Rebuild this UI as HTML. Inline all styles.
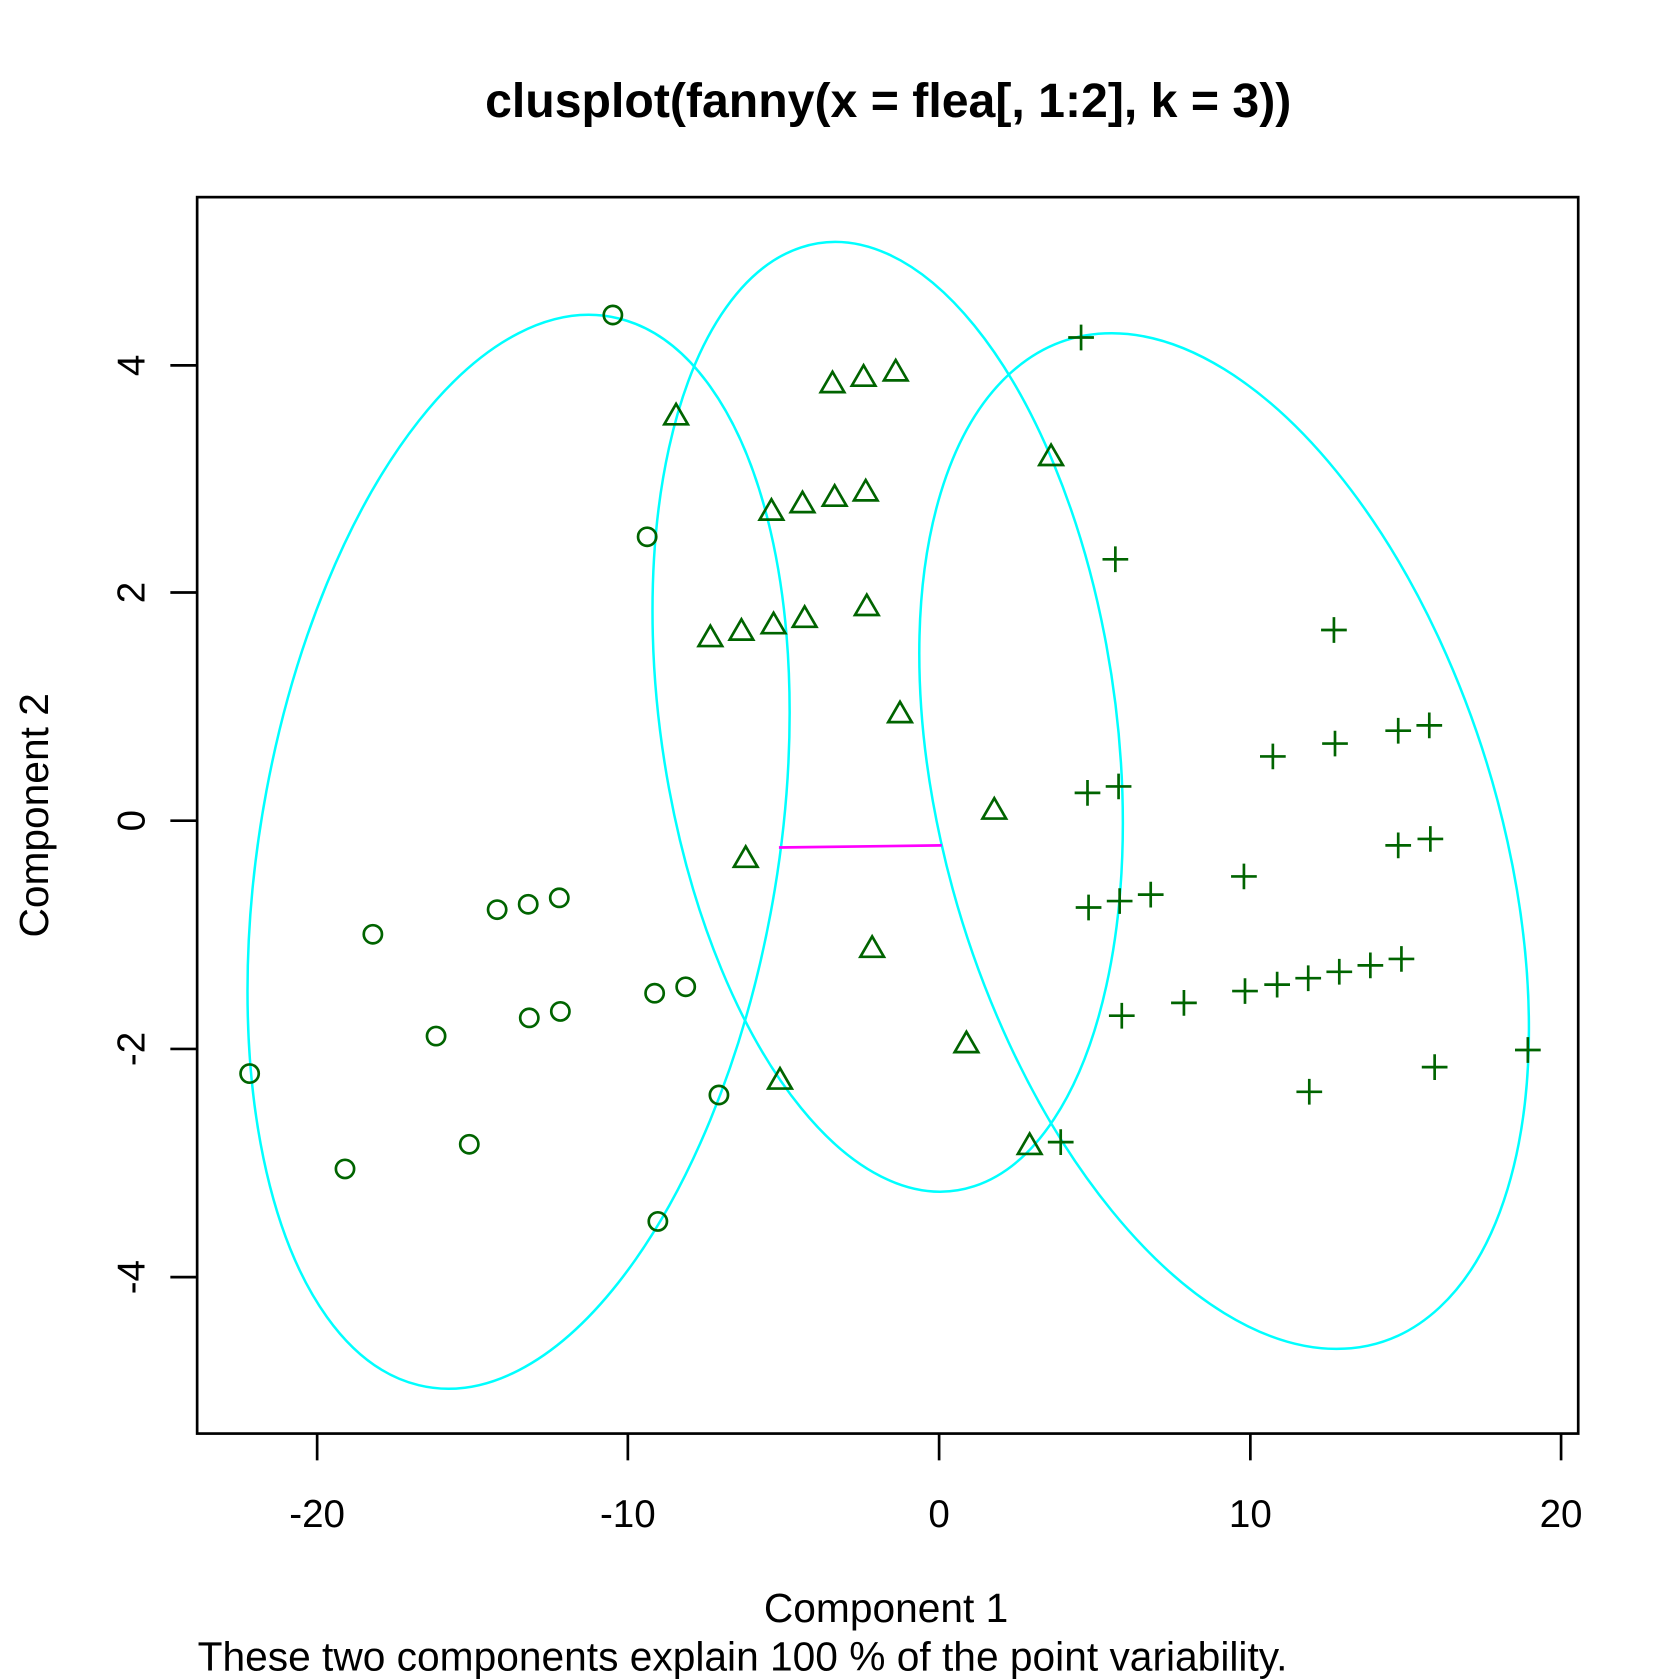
<!DOCTYPE html>
<html><head><style>html,body{margin:0;padding:0;background:#fff}svg{display:block}</style></head><body>
<svg width="1680" height="1680" viewBox="0 0 1568 1568" xmlns="http://www.w3.org/2000/svg" font-family="Liberation Sans, Arial, sans-serif">
<rect width="1568" height="1568" fill="#fff"/>
<text x="829" y="109" font-size="45" font-weight="bold" text-anchor="middle">clusplot(fanny(x = flea[, 1:2], k = 3))</text>
<rect x="184" y="184" width="1289" height="1154" fill="none" stroke="#000" stroke-width="2.5"/>
<g stroke="#000" stroke-width="2.5">
<line x1="296" y1="1338" x2="296" y2="1363"/><line x1="586" y1="1338" x2="586" y2="1363"/><line x1="876.5" y1="1338" x2="876.5" y2="1363"/><line x1="1167" y1="1338" x2="1167" y2="1363"/><line x1="1457" y1="1338" x2="1457" y2="1363"/>
<line x1="159" y1="341" x2="184" y2="341"/><line x1="159" y1="553" x2="184" y2="553"/><line x1="159" y1="766" x2="184" y2="766"/><line x1="159" y1="979" x2="184" y2="979"/><line x1="159" y1="1192" x2="184" y2="1192"/>
</g>
<g font-size="36" text-anchor="middle">
<text x="296" y="1425">-20</text><text x="586" y="1425">-10</text><text x="876.5" y="1425">0</text><text x="1167" y="1425">10</text><text x="1457" y="1425">20</text>
<text transform="translate(135,341) rotate(-90)">4</text>
<text transform="translate(135,553) rotate(-90)">2</text>
<text transform="translate(135,766) rotate(-90)">0</text>
<text transform="translate(135,979) rotate(-90)">-2</text>
<text transform="translate(135,1192) rotate(-90)">-4</text>
</g>
<text x="827" y="1514" font-size="38" text-anchor="middle">Component 1</text>
<text x="693" y="1559" font-size="38" text-anchor="middle">These two components explain 100 % of the point variability.</text>
<text transform="translate(45,761) rotate(-90)" font-size="38" text-anchor="middle">Component 2</text>
<g fill="none" stroke="#00ffff" stroke-width="2.5">
<circle r="1" transform="matrix(253,-130,0,484,484,795)" vector-effect="non-scaling-stroke"/>
<circle r="1" transform="matrix(219.5,99,0,432,828.5,669)" vector-effect="non-scaling-stroke"/>
<circle r="1" transform="matrix(284.5,175,0,440.5,1142.5,785)" vector-effect="non-scaling-stroke"/>
</g>
<line x1="727" y1="791" x2="879" y2="789" stroke="#ff00ff" stroke-width="2.5"/>
<g id="pts" fill="none" stroke="#006400" stroke-width="2.5"></g>
<script>
var g=document.getElementById('pts'),ns='http://www.w3.org/2000/svg';
var C=[[572,294],[604,501],[348,872],[464,849],[493,844],[522,838],[407,967],[494,950],[523,944],[611,927],[640,921],[233,1002],[322,1091],[438,1068],[671,1022],[614,1140]];
var T=[[631,388],[777,358],[806,352],[836,347],[981,426],[720,477],[749,470],[779,464],[808,459],[663,595],[692,589],[722,583],[751,577],[809,566],[840,666],[928,756],[696,801],[814,885],[902,974],[728,1008],[961,1069]];
var P=[[1009,315],[1041,522],[1245,588],[1188,706],[1246,694],[1305,682],[1334,677],[1015,740],[1044,734],[1305,789],[1335,783],[1161,818],[1016,847],[1045,841],[1074,835],[1047,948],[1105,936],[1162,925],[1192,919],[1221,913],[1250,907],[1279,901],[1308,895],[1426,980],[1339,996],[1222,1019],[990,1066]];
function el(t,a){var e=document.createElementNS(ns,t);for(var k in a)e.setAttribute(k,a[k]);g.appendChild(e);}
C.forEach(function(p){el('circle',{cx:p[0],cy:p[1],r:8.5});});
T.forEach(function(p){var x=p[0],y=p[1];el('polygon',{points:(x-11)+','+(y+8)+' '+(x+11)+','+(y+8)+' '+x+','+(y-11)});});
P.forEach(function(p){var x=p[0],y=p[1];el('path',{d:'M'+(x-12)+' '+y+'H'+(x+12)+'M'+x+' '+(y-12)+'V'+(y+12)});});
</script>
</svg>
</body></html>
